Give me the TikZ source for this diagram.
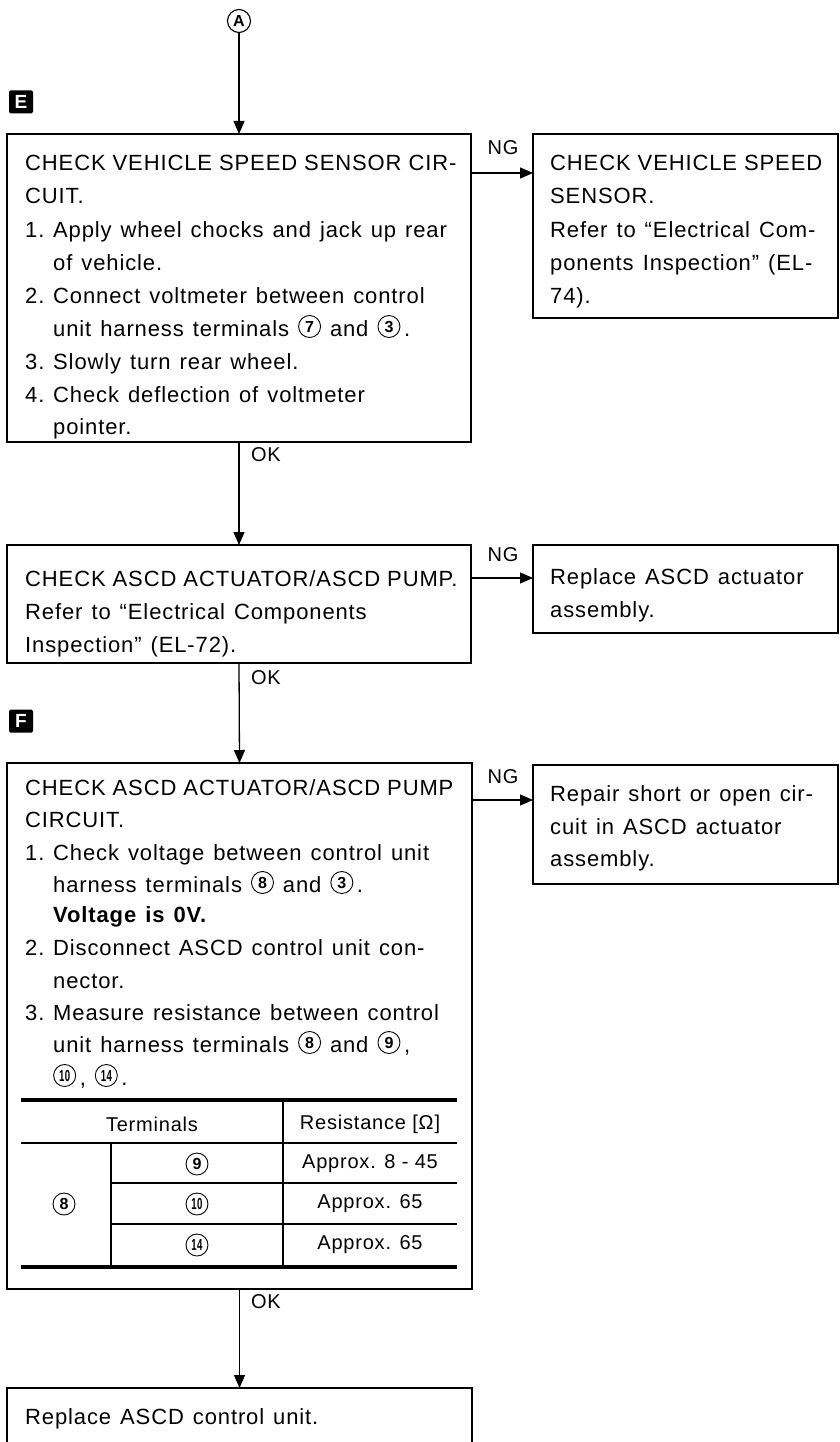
\documentclass[tikz,border=0pt]{standalone}
\usepackage{fontspec}
\setmainfont[LetterSpace=4]{Liberation Sans}
\usepackage{graphicx}
\usetikzlibrary{arrows.meta}
\newcommand\cn[1]{\tikz[baseline={([yshift=-4pt]cnx.base)}]\node[circle,draw,line width=0.9pt,inner sep=0pt,minimum size=22pt,anchor=center,font=\fontsize{16}{16}\selectfont\bfseries](cnx){#1};}
\newcommand\cnn[1]{\cn{\scalebox{0.6}[1]{#1}}}
\newcommand\itm[1]{\makebox[28pt][l]{#1}}
\newcommand\widesp{\fontsize{22}{28}\selectfont\spaceskip 9pt\relax}
\tikzset{
  box/.style={draw, line width=1.8pt, rectangle, inner sep=0pt, outer sep=0pt, anchor=north west},
  txt/.style={anchor=base west, inner sep=0pt, font=\widesp},
  capstxt/.style={anchor=base west, inner sep=0pt, font=\fontsize{22}{28}\selectfont},
  lab/.style={anchor=center, inner sep=0pt, font=\fontsize{20}{24}\selectfont},
  tab/.style={anchor=center, inner sep=0pt, font=\fontsize{20}{24}\selectfont},
  conn/.style={line width=1.3pt, -{Triangle[length=13pt,width=11pt]}},
  marker/.style={fill=black, text=white, rounded corners=1.5pt, minimum width=24pt, minimum height=23pt, inner sep=0pt, font=\fontsize{19}{19}\selectfont\bfseries},
  thick rule/.style={line width=3.5pt},
  thin rule/.style={line width=1.3pt}
}
\begin{document}
\begin{tikzpicture}[x=1pt,y=-1pt]
\useasboundingbox (0,0) rectangle (840,1442);
\clip (0,0) rectangle (840,1442);
\fill[white] (0,0) rectangle (840,1442);

% top connector
\node[circle, draw, line width=1.1pt, minimum size=23pt, inner sep=0pt, font=\fontsize{16}{16}\selectfont\bfseries] (A) at (239,21) {A};
\node[marker] (mE) at (21,102) {E};
\node[marker] (mF) at (21,721) {F};

% boxes
\node[box, minimum width=464pt, minimum height=308pt] (b1) at (7,134) {};
\node[box, minimum width=305pt, minimum height=184pt] (r1) at (533,134) {};
\node[box, minimum width=464pt, minimum height=118pt] (b2) at (7,545) {};
\node[box, minimum width=305pt, minimum height=88pt] (r2) at (533,545) {};
\node[box, minimum width=465pt, minimum height=526pt] (b3) at (7,763) {};
\node[box, minimum width=305pt, minimum height=119pt] (r3) at (533,765) {};
\node[box, minimum width=465pt, minimum height=80pt] (b4) at (7,1388) {};

% connectors
\draw[conn] (A.south) -- (b1.north);
\draw[conn] (b1.south) -- (b2.north);
\draw[conn] (b2.south) -- (b3.north);
\draw[conn] (b3.south) -- (b4.north);
\coordinate (ng1) at (500,173);
\coordinate (ng2) at (500,578);
\coordinate (ng3) at (500,800);
\draw[conn] (b1.east |- ng1) -- (r1.west |- ng1);
\draw[conn] (b2.east |- ng2) -- (r2.west |- ng2);
\draw[conn] (b3.east |- ng3) -- (r3.west |- ng3);

% labels
\node[lab] (lng1) at (503,148) {NG};
\node[lab] (lng2) at (503,555) {NG};
\node[lab] (lng3) at (503,777) {NG};
\node[lab] (lok1) at (266,455) {OK};
\node[lab] (lok2) at (266,678) {OK};
\node[lab] (lok3) at (266,1302) {OK};

% box 1 text
\node[capstxt] (t11) at (25,171) {CHECK VEHICLE SPEED SENSOR CIR-};
\node[txt] (t12) at (25,204) {CUIT.};
\node[txt] (t13) at (25,237) {\itm{1.}Apply wheel chocks and jack up rear};
\node[txt] (t14) at (53,270) {of vehicle.};
\node[txt] (t15) at (25,303) {\itm{2.}Connect voltmeter between control};
\node[txt] (t16) at (53,336) {unit harness terminals \cn{7} and \cn{3}\,.};
\node[txt] (t17) at (25,369) {\itm{3.}Slowly turn rear wheel.};
\node[txt] (t18) at (25,402) {\itm{4.}Check deflection of voltmeter};
\node[txt] (t19) at (53,434) {pointer.};

% right box 1 text
\node[capstxt] (u11) at (550,171) {CHECK VEHICLE SPEED};
\node[txt] (u12) at (550,204) {SENSOR.};
\node[txt] (u13) at (550,237) {Refer to “Electrical Com-};
\node[txt] (u14) at (550,270) {ponents Inspection” (EL-};
\node[txt] (u15) at (550,303) {74).};

% box 2 text
\node[capstxt] (t21) at (25,586) {CHECK ASCD ACTUATOR/ASCD PUMP.};
\node[txt] (t22) at (25,619) {Refer to “Electrical Components};
\node[txt] (t23) at (25,652) {Inspection” (EL-72).};

% right box 2 text
\node[txt] (u21) at (550,584) {Replace ASCD actuator};
\node[txt] (u22) at (550,617) {assembly.};

% box 3 text
\node[capstxt] (t31) at (25,795) {CHECK ASCD ACTUATOR/ASCD PUMP};
\node[txt] (t32) at (25,827) {CIRCUIT.};
\node[txt] (t33) at (25,860) {\itm{1.}Check voltage between control unit};
\node[txt] (t34) at (53,892) {harness terminals \cn{8} and \cn{3}\,.};
\node[txt] (t35) at (53,922) {\bfseries Voltage is 0V.};
\node[txt] (t36) at (25,955) {\itm{2.}Disconnect ASCD control unit con-};
\node[txt] (t37) at (53,988) {nector.};
\node[txt] (t38) at (25,1020) {\itm{3.}Measure resistance between control};
\node[txt] (t39) at (53,1052) {unit harness terminals \cn{8} and \cn{9}\,,};
\node[txt] (t310) at (53,1085) {\cnn{10}\,, \cnn{14}\,.};

% table
\draw[thick rule] (21,1100) -- (457,1100);
\draw[thin rule] (21,1143) -- (457,1143);
\draw[thin rule] (111,1183) -- (457,1183);
\draw[thin rule] (111,1224) -- (457,1224);
\draw[thick rule] (21,1267) -- (457,1267);
\draw[thin rule] (111,1143) -- (111,1267);
\draw[thin rule] (283,1100) -- (283,1267);
\node[tab] (h1) at (152,1124) {Terminals};
\node[tab] (h2) at (370,1124) {Resistance [Ω]};
\node[tab] (c8) at (64,1204) {\cn{8}};
\node[tab] (c9) at (197,1164) {\cn{9}};
\node[tab] (c10) at (197,1204) {\cnn{10}};
\node[tab] (c14) at (197,1245) {\cnn{14}};
\node[tab] (v1) at (370,1164) {Approx. 8 - 45};
\node[tab] (v2) at (370,1204) {Approx. 65};
\node[tab] (v3) at (370,1245) {Approx. 65};

% right box 3 text
\node[txt] (u31) at (550,801) {Repair short or open cir-};
\node[txt] (u32) at (550,834) {cuit in ASCD actuator};
\node[txt] (u33) at (550,866) {assembly.};

% box 4 text
\node[txt] (t41) at (25,1424) {Replace ASCD control unit.};
\end{tikzpicture}
\end{document}
